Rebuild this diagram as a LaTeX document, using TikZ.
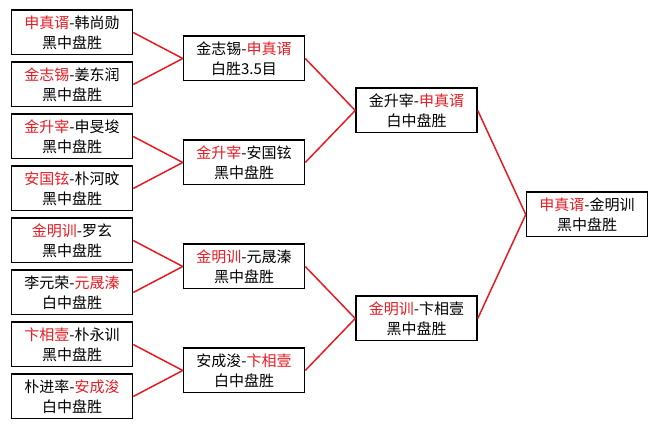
\documentclass[tikz,border=0pt]{standalone}
\usepackage{fontspec}
\setmainfont{Noto Sans CJK SC}
\usepackage{tikz}
\usetikzlibrary{positioning,calc}
\definecolor{rojo}{RGB}{228,28,36}
\tikzset{juego/.style={draw, line width=1.5pt, minimum width=121pt, minimum height=44.5pt, inner sep=0pt, align=center, font=\fontsize{15}{20}\selectfont}}
\tikzset{arista/.style={line width=1.5pt, color=rojo}}
\newcommand{\rj}[1]{\textcolor{rojo}{#1}}

\begin{document}
\begin{tikzpicture}[x=1pt,y=1pt]
            \useasboundingbox (0,0) rectangle (657,429);
            % primera ronda
            \node[juego] (1) at (72,396.5) {\rj{申真谞}-韩尚勋\\黑中盘胜};
            \node[juego, below=6pt of 1] (2) {\rj{金志锡}-姜东润\\黑中盘胜};
            \node[juego, below=6pt of 2] (3) {\rj{金升宰}-申旻埈\\黑中盘胜};
            \node[juego, below=6pt of 3] (4) {\rj{安国铉}-朴河旼\\黑中盘胜};
            \node[juego, below=6pt of 4] (5) {\rj{金明训}-罗玄\\黑中盘胜};
            \node[juego, below=6pt of 5] (6) {李元荣-\rj{元晟溱}\\白中盘胜};
            \node[juego, below=6pt of 6] (7) {\rj{卞相壹}-朴永训\\黑中盘胜};
            \node[juego, below=6pt of 7] (8) {朴进率-\rj{安成浚}\\白中盘胜};

            % segunda ronda
            \node[juego] (12) at ($(1)!0.5!(2)+(172,0)$) {金志锡-\rj{申真谞}\\白胜3.5目};
            \node[juego] (34) at ($(3)!0.5!(4)+(172,0)$) {\rj{金升宰}-安国铉\\黑中盘胜};
            \node[juego] (56) at ($(5)!0.5!(6)+(172,0)$) {\rj{金明训}-元晟溱\\黑中盘胜};
            \node[juego] (78) at ($(7)!0.5!(8)+(172,0)$) {安成浚-\rj{卞相壹}\\白中盘胜};

            % semifinales
            \node[juego] (14) at ($(12)!0.5!(34)+(172.5,0)$) {金升宰-\rj{申真谞}\\白中盘胜};
            \node[juego] (58) at ($(56)!0.5!(78)+(172.5,0)$) {\rj{金明训}-卞相壹\\黑中盘胜};

            % final
            \node[juego] (18) at ($(14)!0.5!(58)+(170.5,0)$) {\rj{申真谞}-金明训\\黑中盘胜};

            \draw[arista] (1.east) -- (12.west);
            \draw[arista] (2.east) -- (12.west);
            \draw[arista] (3.east) -- (34.west);
            \draw[arista] (4.east) -- (34.west);
            \draw[arista] (5.east) -- (56.west);
            \draw[arista] (6.east) -- (56.west);
            \draw[arista] (7.east) -- (78.west);
            \draw[arista] (8.east) -- (78.west);
            \draw[arista] (12.east) -- (14.west);
            \draw[arista] (34.east) -- (14.west);
            \draw[arista] (56.east) -- (58.west);
            \draw[arista] (78.east) -- (58.west);
            \draw[arista] (14.east) -- (18.west);
            \draw[arista] (58.east) -- (18.west);
        \end{tikzpicture}
\end{document}
